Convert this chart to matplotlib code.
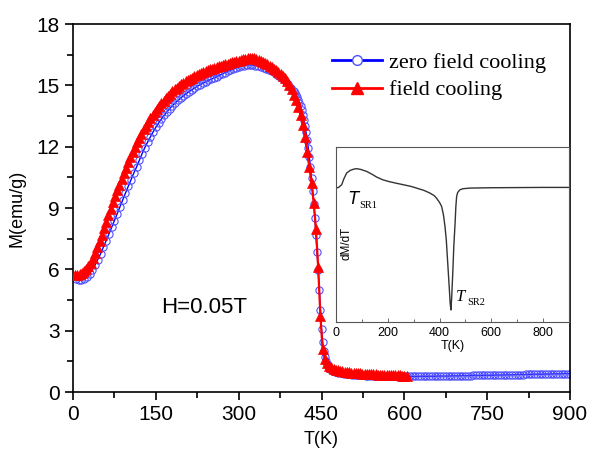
import numpy as np
import matplotlib
matplotlib.use("Agg")
import matplotlib.pyplot as plt
from matplotlib.lines import Line2D
from matplotlib.ticker import MultipleLocator

# ---------------- data ----------------
# ZFC temperature grid (K)
zfc_T = list(range(5, 401, 5)) + list(range(402, 471, 2)) + list(range(475, 901, 5))
zfc_M = [
    5.55, 5.50, 5.48, 5.52, 5.62, 5.78, 5.98, 6.22, 6.48, 6.77,
    7.08, 7.40, 7.72, 8.05, 8.38, 8.72, 9.06, 9.40, 9.73, 10.06,
    10.38, 10.70, 11.00, 11.33, 11.65, 11.95, 12.22, 12.47, 12.72, 12.95,
    13.16, 13.35, 13.53, 13.70, 13.86, 14.00, 14.14, 14.26, 14.38, 14.49,
    14.59, 14.69, 14.78, 14.87, 14.95, 15.03, 15.10, 15.17, 15.24, 15.30,
    15.36, 15.42, 15.49, 15.56, 15.62, 15.68, 15.74, 15.80, 15.85, 15.90,
    15.94, 15.97, 15.99, 16.00, 15.99, 15.97, 15.95, 15.92, 15.87, 15.82,
    15.76, 15.68, 15.60, 15.50, 15.41, 15.30, 15.18, 15.05, 14.89, 14.70,
    # 402..470 step 2
    14.62, 14.52, 14.42, 14.30, 14.15, 13.98, 13.78, 13.55, 13.30, 13.00,
    12.70, 12.35, 11.95, 11.50, 11.00, 10.45, 9.85, 9.20, 8.50, 7.70,
    6.85, 5.95, 5.00, 4.00, 3.10, 2.45, 2.00, 1.70, 1.50, 1.37,
    1.27, 1.20, 1.14, 1.09, 1.05,
    # 475..900 step 5
    0.99, 0.95, 0.92, 0.90, 0.88, 0.86, 0.85, 0.84, 0.83, 0.82,
    0.81, 0.80, 0.80, 0.79, 0.79, 0.78, 0.78, 0.77, 0.77, 0.77,
    0.76, 0.76, 0.76, 0.76, 0.76, 0.76, 0.76, 0.76, 0.76, 0.76,
    0.76, 0.77, 0.77, 0.77, 0.77, 0.77, 0.77, 0.78, 0.78, 0.78,
    0.78, 0.78, 0.79, 0.79, 0.79, 0.79, 0.80, 0.80, 0.80, 0.80,
    0.81, 0.81, 0.81, 0.81, 0.82, 0.82, 0.82, 0.82, 0.83, 0.83,
    0.83, 0.83, 0.84, 0.84, 0.84, 0.85, 0.85, 0.85, 0.85, 0.86,
    0.86, 0.86, 0.87, 0.87, 0.87, 0.87, 0.88, 0.88, 0.88, 0.89,
    0.89, 0.89, 0.89, 0.90, 0.90, 0.90,
]

# FC temperature grid (K)
fc_T = list(range(4, 605, 4))
fc_M = [
    5.70, 5.72, 5.76, 5.82, 5.90, 6.00, 6.14, 6.32, 6.54, 6.80,
    7.08, 7.38, 7.69, 8.01, 8.33, 8.65, 8.96, 9.27, 9.57, 9.86,
    10.14, 10.42, 10.70, 10.98, 11.25,
    11.50, 11.75, 12.00, 12.22, 12.43, 12.64, 12.84, 13.03, 13.21, 13.38,
    13.54, 13.70, 13.85, 13.99, 14.12, 14.25, 14.37, 14.49, 14.60, 14.70,
    14.80, 14.89, 14.97, 15.05, 15.12,
    15.19, 15.26, 15.32, 15.38, 15.44, 15.50, 15.55, 15.60, 15.65, 15.70,
    15.74, 15.78, 15.82, 15.86, 15.90, 15.94, 15.97, 16.00, 16.03, 16.06,
    16.09, 16.12, 16.15, 16.18, 16.21,
    16.25, 16.28, 16.31, 16.33, 16.34, 16.34, 16.32, 16.29, 16.25, 16.20,
    16.14, 16.08, 16.02, 15.96, 15.89, 15.81, 15.73, 15.65, 15.56, 15.46,
    15.35, 15.20, 15.02, 14.80, 14.55,
    14.28, 13.95, 13.55, 13.05, 12.45, 11.75, 11.00, 10.20, 9.25, 7.95,
    6.10, 3.70, 2.10, 1.60, 1.40, 1.28, 1.20, 1.14, 1.10, 1.06,
    1.03, 1.01, 0.99, 0.97, 0.96,
    0.95, 0.94, 0.93, 0.92, 0.91, 0.90, 0.89, 0.88, 0.88, 0.87,
    0.86, 0.86, 0.85, 0.85, 0.84, 0.84, 0.83, 0.83, 0.82, 0.82,
    0.81, 0.81, 0.81, 0.80, 0.80, 0.80,
]

# inset dM/dT (arbitrary units)
dmdt_T = [0, 10, 22, 30, 41, 55, 70, 80, 95, 118, 140, 157, 180, 202, 230,
          260, 290, 311, 340, 363, 380, 388, 400, 408, 415, 421, 426, 430,
          434, 438, 441, 444, 447, 451, 455, 460, 463, 466, 470, 479, 490,
          517, 600, 700, 800, 900]
dmdt_v = [0.00, 0.02, 0.10, 0.27, 0.45, 0.53, 0.57, 0.58, 0.56, 0.50,
          0.41, 0.33, 0.25, 0.20, 0.15, 0.10, 0.05, 0.00, -0.07, -0.15,
          -0.23, -0.30, -0.43, -0.55, -0.80, -1.15, -1.55, -2.05, -2.55,
          -3.05, -3.45, -3.65, -3.25, -2.55, -1.75, -1.05, -0.55, -0.25,
          -0.13, -0.05, -0.02, 0.00, 0.01, 0.015, 0.02, 0.02]

x_ticks = [0, 150, 300, 450, 600, 750, 900]
y_ticks = [0, 3, 6, 9, 12, 15, 18]
inset_ticks = [0, 200, 400, 600, 800]

# ---------------- figure ----------------
W, H = 589, 457
fig = plt.figure(figsize=(W / 100, H / 100), dpi=100)
sans = ["Liberation Sans", "DejaVu Sans"]
serif = ["Liberation Serif", "DejaVu Serif"]

ax = fig.add_axes([73 / W, 1 - 392 / H, (570 - 73) / W, (392 - 24) / H])

ax.plot(zfc_T, zfc_M, color="blue", lw=1.0, marker="o", ms=5.2,
        mfc="none", mec="#5050ff", mew=0.8, zorder=2)
ax.plot(fc_T, fc_M, color="red", lw=1.6, marker="^", ms=6.5,
        mfc="red", mec="red", mew=0.5, zorder=3)

ax.set_xlim(0, 900)
ax.set_ylim(0, 18)
ax.set_xticks(x_ticks)
ax.set_yticks(y_ticks)
ax.xaxis.set_minor_locator(MultipleLocator(75))
ax.yaxis.set_minor_locator(MultipleLocator(1.5))
ax.tick_params(which="both", direction="out", top=False, right=False,
               width=1.2, labelsize=15)
ax.tick_params(which="major", length=6)
ax.tick_params(which="minor", length=4)
for lab in ax.get_xticklabels() + ax.get_yticklabels():
    lab.set_family(sans)
for s in ax.spines.values():
    s.set_linewidth(1.2)
ax.set_xlabel("T(K)", fontsize=13, family=sans, labelpad=5)
ax.set_ylabel("M(emu/g)", fontsize=13, family=sans, labelpad=8)

ax.text(237, 4.15, "H=0.05T", fontsize=16, family=sans, ha="center", va="center")

handles = [
    Line2D([], [], color="blue", lw=2, marker="o", ms=7, mfc="white",
           mec="#5050ff", mew=1),
    Line2D([], [], color="red", lw=2, marker="^", ms=8, mfc="red", mec="red"),
]
leg = ax.legend(handles, ["zero field cooling", "field cooling"],
                loc="upper left", bbox_to_anchor=(332 / W, 1 - 52 / H),
                bbox_transform=fig.transFigure, frameon=False,
                prop={"family": serif, "size": 16}, handlelength=2.25,
                handletextpad=0.3, labelspacing=0.33, borderpad=0,
                borderaxespad=0)

# ---------------- inset ----------------
ins = fig.add_axes([336 / W, 1 - 322 / H, (569 - 336) / W, (322 - 147) / H])
ins.plot(dmdt_T, dmdt_v, color="#333333", lw=1.0)
ins.set_xlim(0, 900)
ins.set_ylim(-4.01, 1.23)
ins.set_xticks(inset_ticks)
ins.xaxis.set_minor_locator(MultipleLocator(100))
ins.set_yticks([])
ins.tick_params(which="both", direction="in", top=False, right=False,
                labelsize=9, width=0.6, colors="#555555", labelcolor="black")
ins.tick_params(which="major", length=3)
ins.tick_params(which="minor", length=2)
for lab in ins.get_xticklabels():
    lab.set_family(sans)
for s in ins.spines.values():
    s.set_linewidth(0.8)
    s.set_color("#555555")
ins.set_xlabel("T(K)", fontsize=9, family=sans, labelpad=1)
ins.text(0.045, 0.45, "dM/dT", rotation=90, fontsize=8.5, family=sans,
         transform=ins.transAxes, ha="center", va="center")
ins.text(0.05, 0.70, r"$T$", fontsize=12, family=serif, style="italic",
         transform=ins.transAxes, ha="left", va="center")
ins.text(0.098, 0.665, "SR1", fontsize=7.5, family=serif,
         transform=ins.transAxes, ha="left", va="center")
ins.text(0.515, 0.145, "T", fontsize=12, family=serif, style="italic",
         transform=ins.transAxes, ha="left", va="center")
ins.text(0.565, 0.11, "SR2", fontsize=7.5, family=serif,
         transform=ins.transAxes, ha="left", va="center")

fig.savefig("out.png", dpi=100)
